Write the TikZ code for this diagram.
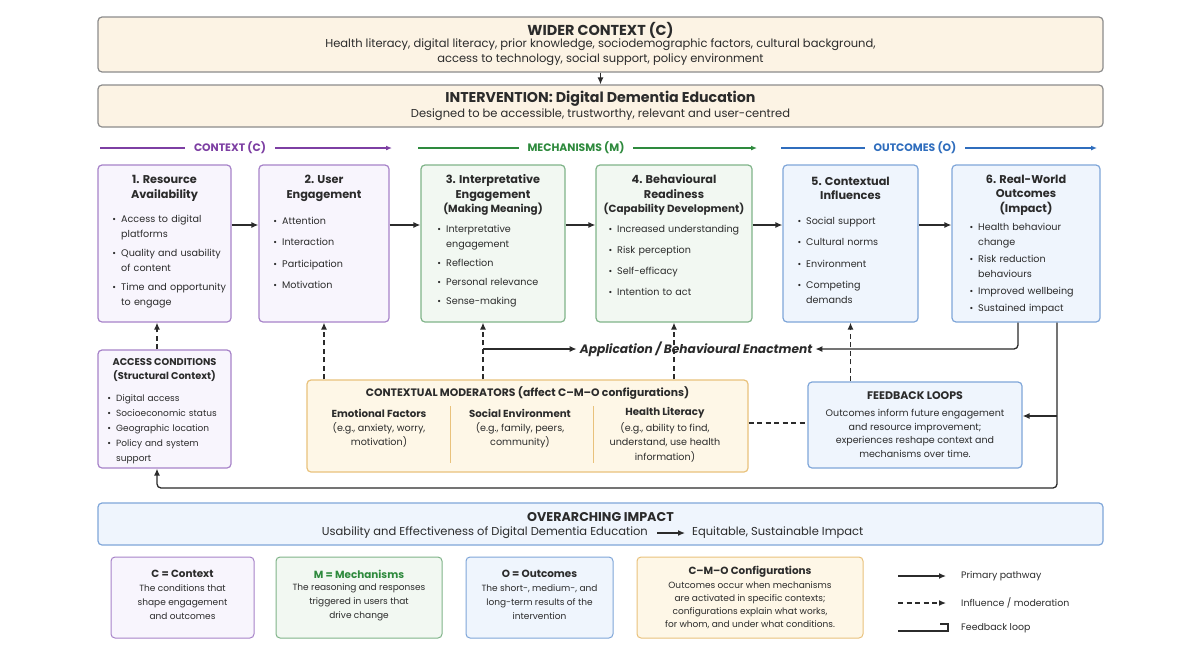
\documentclass[tikz,border=0pt]{standalone}
\usepackage{fontspec}
\setmainfont{Poppins}
\usepackage{enumitem}
\usetikzlibrary{arrows.meta}
\usetikzlibrary{positioning}
\definecolor{ink}{HTML}{2B2B2B}
\definecolor{edge}{HTML}{8C8C8C}
\definecolor{cream}{HTML}{FCF3E4}
\definecolor{cline}{HTML}{A783C9}
\definecolor{cfill}{HTML}{F8F5FD}
\definecolor{ctext}{HTML}{7D3FA3}
\definecolor{mline}{HTML}{80B489}
\definecolor{mfill}{HTML}{F2F8F2}
\definecolor{mtext}{HTML}{2E8A3D}
\definecolor{oline}{HTML}{7FA6D9}
\definecolor{ofill}{HTML}{EFF5FD}
\definecolor{otext}{HTML}{2F6DBD}
\definecolor{yline}{HTML}{E9C27C}
\definecolor{yfill}{HTML}{FEF7E7}
\setlist[itemize]{label = {\small\textbullet}, leftmargin = 10pt, labelsep = 5pt, topsep = 0pt, partopsep = 0pt, parsep = 0pt, itemsep = 4pt}
\tikzset{box/.style = {draw, rounded corners = 4, line width = 1.2, inner sep = 0}}
\tikzset{topbox/.style = {box, draw = edge, fill = cream, minimum width = 1005}}
\tikzset{cbox/.style = {box, draw = cline, fill = cfill, minimum height = 157}}
\tikzset{mbox/.style = {box, draw = mline, fill = mfill, minimum height = 157}}
\tikzset{obox/.style = {box, draw = oline, fill = ofill, minimum height = 157}}
\tikzset{ttl/.style = {align = center, inner sep = 0, text = ink, font = \fontsize{11.3}{14.5}\selectfont\bfseries}}
\tikzset{pts/.style = {anchor = north west, inner sep = 0, text width = 150, text = ink, font = \fontsize{9.6}{15}\selectfont}}
\tikzset{small/.style = {align = center, inner sep = 0, text = ink, font = \fontsize{9.6}{14.5}\selectfont}}
\tikzset{flow/.style = {draw = ink, line width = 1.3, -{Latex[length = 7pt, width = 6pt]}}}
\tikzset{infl/.style = {flow, dash pattern = on 5pt off 3.5pt}}
\tikzset{hdr/.style = {line width = 1.6, -{Latex[length = 6pt, width = 5pt]}}}
\tikzset{hlab/.style = {fill = white, inner xsep = 9, inner ysep = 2, font = \fontsize{10.8}{12}\selectfont\bfseries}}
\tikzset{key/.style = {anchor = west, inner sep = 0, text = ink, font = \fontsize{9.4}{11}\selectfont}}

\begin{document}
\begin{tikzpicture}[x = 1pt, y = -1pt]
  \useasboundingbox [fill = white] (0, 0) rectangle (1201, 651);

  \node [topbox, minimum height = 55] (wider) at (600.5, 44.5) {};
  \node [ttl, font = \fontsize{14.4}{16}\selectfont\bfseries] (widerT) at (600.5, 30) {WIDER CONTEXT (C)};
  \node [small, font = \fontsize{11.5}{15}\selectfont] (widerS) at (600.5, 52.5) {Health literacy, digital literacy, prior knowledge, sociodemographic factors, cultural background,\\access to technology, social support, policy environment};
  \node [topbox, minimum height = 42] (interv) at (600.5, 106) {};
  \node [ttl, font = \fontsize{14.2}{16}\selectfont\bfseries] (intervT) at (600.5, 99) {INTERVENTION: Digital Dementia Education};
  \node [small, font = \fontsize{11.5}{15}\selectfont] (intervS) at (600.5, 115) {Designed to be accessible, trustworthy, relevant and user-centred};

  \draw [hdr, draw = ctext] (100, 148) -- (392, 148);
  \node [hlab, text = ctext] (ctxH) at (230, 148) {CONTEXT (C)};
  \draw [hdr, draw = mtext] (418, 148) -- (757, 148);
  \node [hlab, text = mtext] (mechH) at (576, 148) {MECHANISMS (M)};
  \draw [hdr, draw = otext] (781, 148) -- (1097, 148);
  \node [hlab, text = otext] (outH) at (915, 148) {OUTCOMES (O)};

  \node [cbox, minimum width = 133] (res) at (164.5, 243.5) {};
  \node [cbox, minimum width = 130] (eng) at (324, 243.5) {};
  \node [mbox, minimum width = 144] (interp) at (493, 243.5) {};
  \node [mbox, minimum width = 156] (ready) at (674, 243.5) {};
  \node [obox, minimum width = 135] (infl) at (850.5, 243.5) {};
  \node [obox, minimum width = 148] (real) at (1026, 243.5) {};

  \node [ttl] (resT) at (164.5, 188.5) {1. Resource\\Availability};
  \node [ttl] (engT) at (324, 188.5) {2. User\\Engagement};
  \node [ttl] (interpT) at (493, 195) {3. Interpretative\\Engagement\\{\fontsize{10.4}{14}\selectfont(Making Meaning)}};
  \node [ttl] (readyT) at (674, 195) {4. Behavioural\\Readiness\\{\fontsize{10.4}{14}\selectfont(Capability Development)}};
  \node [ttl] (inflT) at (850.5, 188.5) {5. Contextual\\Influences};
  \node [ttl] (realT) at (1026, 195) {6. Real-World\\Outcomes\\(Impact)};

  \node [pts] (resL) at (111, 207) {\begin{itemize} \item Access to digital\\platforms \item Quality and usability\\of content \item Time and opportunity\\to engage \end{itemize}};
  \node [pts] (engL) at (272, 209) {\begin{itemize}[itemsep = 6.5pt] \item Attention \item Interaction \item Participation \item Motivation \end{itemize}};
  \node [pts] (interpL) at (436, 217) {\begin{itemize} \item Interpretative\\engagement \item Reflection \item Personal relevance \item Sense-making \end{itemize}};
  \node [pts] (readyL) at (607, 217) {\begin{itemize}[itemsep = 6pt] \item Increased understanding \item Risk perception \item Self-efficacy \item Intention to act \end{itemize}};
  \node [pts] (inflL) at (796, 209) {\begin{itemize}[itemsep = 6.5pt] \item Social support \item Cultural norms \item Environment \item Competing\\demands \end{itemize}};
  \node [pts] (realL) at (968, 215) {\begin{itemize}[itemsep = 2pt] \item Health behaviour\\change \item Risk reduction\\behaviours \item Improved wellbeing \item Sustained impact \end{itemize}};

  \node [cbox, minimum width = 133, minimum height = 118] (acc) at (164.5, 409) {};
  \node [ttl, font = \fontsize{9.8}{14}\selectfont\bfseries] (accT) at (164.5, 370) {ACCESS CONDITIONS\\(Structural Context)};
  \node [pts, font = \fontsize{9}{15}\selectfont] (accL) at (106, 386) {\begin{itemize}[itemsep = 0pt] \item Digital access \item Socioeconomic status \item Geographic location \item Policy and system\\support \end{itemize}};

  \node [box, draw = yline, fill = yfill, minimum width = 441, minimum height = 92] (mod) at (527.5, 426) {};
  \node [ttl, font = \fontsize{10.8}{12}\selectfont\bfseries] (modT) at (527.5, 393) {CONTEXTUAL MODERATORS (affect C–M–O configurations)};
  \node [ttl, font = \fontsize{10.2}{12}\selectfont\bfseries] (emoT) at (379, 413) {Emotional Factors};
  \node [small] (emoS) at (379, 435) {(e.g., anxiety, worry,\\motivation)};
  \node [ttl, font = \fontsize{10.2}{12}\selectfont\bfseries] (socT) at (520, 413) {Social Environment};
  \node [small] (socS) at (520, 435) {(e.g., family, peers,\\community)};
  \node [ttl, font = \fontsize{10.2}{12}\selectfont\bfseries] (hlT) at (665, 413) {Health Literacy};
  \node [small] (hlS) at (665, 442) {(e.g., ability to find,\\understand, use health\\information)};
  \draw [yline, line width = 0.8] (450, 406) -- (450, 463);
  \draw [yline, line width = 0.8] (593, 406) -- (593, 463);

  \node [box, draw = oline, fill = ofill, minimum width = 214, minimum height = 86] (fb) at (915, 425) {};
  \node [ttl, font = \fontsize{11}{12}\selectfont\bfseries] (fbT) at (915, 396) {FEEDBACK LOOPS};
  \node [small, font = \fontsize{9.5}{13.7}\selectfont] (fbS) at (915, 433.5) {Outcomes inform future engagement\\and resource improvement;\\experiences reshape context and\\mechanisms over time.};

  \node [inner sep = 3, text = ink, font = \fontsize{12.2}{14}\selectfont\bfseries\itshape] (app) at (696, 349) {Application / Behavioural Enactment};

  \draw [flow] (wider) -- (interv);
  \foreach \a/\b in {res/eng, eng/interp, interp/ready, ready/infl, infl/real}
    \draw [flow] (\a.east |- 0, 225) -- (\b.west |- 0, 225);
  \draw [infl] (acc.north -| 157, 0) -- (res.south -| 157, 0);
  \draw [infl] (mod.north -| eng) -- (eng.south);
  \draw [infl] (mod.north -| 483, 0) -- (interp.south -| 483, 0);
  \draw [infl] (mod.north -| ready) -- (ready.south);
  \draw [infl] (fb.north -| infl) -- (infl.south);
  \draw [flow] (app.west -| 483, 0) -- (app.west);
  \draw [flow, rounded corners = 4] (real.south -| 1018, 0) |- (app.east);
  \draw [flow, rounded corners = 4] (real.south -| 1057, 0) |- (157, 488) -- (acc.south -| 157, 0);
  \draw [flow] (1057, 416) -- (fb.east |- 0, 416);
  \draw [draw = ink, line width = 1.2, dash pattern = on 5pt off 3.5pt] (mod.east |- 0, 423) -- (fb.west |- 0, 423);

  \node [box, draw = oline, fill = ofill, minimum width = 1005, minimum height = 42] (imp) at (600.5, 524) {};
  \node [ttl, font = \fontsize{12.7}{14}\selectfont\bfseries] (impT) at (600.5, 517) {OVERARCHING IMPACT};
  \node [small, font = \fontsize{11.5}{13}\selectfont, anchor = east] (impA) at (648, 533) {Usability and Effectiveness of Digital Dementia Education};
  \node [small, font = \fontsize{11.5}{13}\selectfont, anchor = west] (impB) at (692, 533) {Equitable, Sustainable Impact};
  \draw [flow, shorten <= 9, shorten >= 7] (impA) -- (impB);

  \node [box, line width = 1, draw = cline, fill = cfill, minimum width = 143, minimum height = 81] (keyC) at (182.5, 597.5) {};
  \node [ttl, font = \fontsize{10.4}{12}\selectfont\bfseries] (keyCT) at (182.5, 574) {C = Context};
  \node [small, font = \fontsize{9}{14}\selectfont] (keyCS) at (182.5, 602) {The conditions that\\shape engagement\\and outcomes};
  \node [box, line width = 1, draw = mline, fill = mfill, minimum width = 166, minimum height = 81] (keyM) at (359, 597.5) {};
  \node [ttl, text = mtext, font = \fontsize{10.4}{12}\selectfont\bfseries] (keyMT) at (359, 574) {M = Mechanisms};
  \node [small, font = \fontsize{9}{14}\selectfont] (keyMS) at (359, 602) {The reasoning and responses\\triggered in users that\\drive change};
  \node [box, line width = 1, draw = oline, fill = ofill, minimum width = 147, minimum height = 81] (keyO) at (539.5, 597.5) {};
  \node [ttl, font = \fontsize{10.4}{12}\selectfont\bfseries] (keyOT) at (539.5, 574) {O = Outcomes};
  \node [small, font = \fontsize{9}{14}\selectfont] (keyOS) at (539.5, 602) {The short-, medium-, and\\long-term results of the\\intervention};
  \node [box, line width = 1, draw = yline, fill = yfill, minimum width = 226, minimum height = 81] (keyY) at (750, 597.5) {};
  \node [ttl, font = \fontsize{10.4}{12}\selectfont\bfseries] (keyYT) at (750, 572) {C–M–O Configurations};
  \node [small, font = \fontsize{9}{13}\selectfont] (keyYS) at (750, 605.5) {Outcomes occur when mechanisms\\are activated in specific contexts;\\configurations explain what works,\\for whom, and under what conditions.};

  \coordinate (k1a) at (898, 576);
  \coordinate (k1b) at (946, 576);
  \coordinate (k2a) at (898, 603);
  \coordinate (k2b) at (946, 603);
  \coordinate (k3a) at (898, 631);
  \node [key] (k1T) at (961, 576) {Primary pathway};
  \node [key] (k2T) at (961, 603) {Influence / moderation};
  \node [key] (k3T) at (961, 628) {Feedback loop};
  \draw [flow] (k1a) -- (k1b);
  \draw [infl] (k2a) -- (k2b);
  \draw [draw = ink, line width = 1.3] (k3a) -- ++(50, 0) -- ++(0, -7) -- ++(-8, 0);
\end{tikzpicture}
\end{document}
